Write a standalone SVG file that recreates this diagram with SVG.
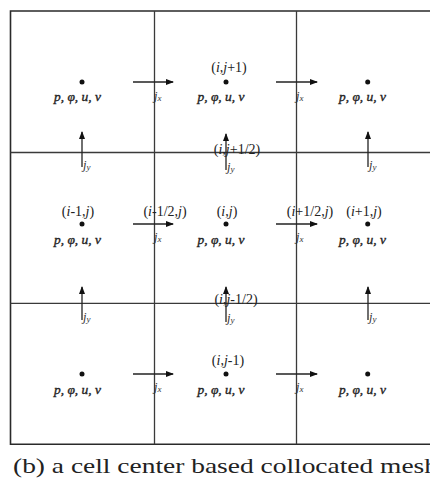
<svg xmlns="http://www.w3.org/2000/svg" width="430" height="485" viewBox="0 0 430 485">
<style>
.grid{stroke:#3a3a3a;stroke-width:1.3;fill:none}
.outer{stroke:#2a2a2a;stroke-width:1.6;fill:none}
.arr{stroke:#222;stroke-width:1.3;fill:none;marker-end:url(#ah)}
.var{font-family:"Liberation Serif",serif;font-style:italic;font-size:13.5px;fill:#222;stroke:#222;stroke-width:0.35;text-anchor:middle}
.lab{font-family:"Liberation Serif",serif;font-size:14px;fill:#222;text-anchor:middle}
.j{font-family:"Liberation Serif",serif;font-style:italic;font-size:12.5px;fill:#333}
.cap{font-family:"Liberation Serif",serif;font-size:21px;fill:#222}
</style>
<defs>
<marker id="ah" markerWidth="8" markerHeight="6" refX="7" refY="3" orient="auto" markerUnits="userSpaceOnUse">
<path d="M0,0 L8,3 L0,6 Z" fill="#111"/>
</marker>
</defs>
<rect width="430" height="485" fill="#fff"/>
<g id="mesh">
<path class="outer" d="M430,11 H10.5 V444.3 H430"/>
<path class="grid" d="M154.5,11 V444.3 M296.5,11 V444.3 M10.5,152.5 H430 M10.5,303.3 H430"/>
</g>
<g id="cell-i-1-j+1"><circle cx="82" cy="82" r="2.5" fill="#111"/><text class="var" x="77.5" y="101">p, φ, u, v</text></g>
<g id="cell-i-j+1"><text class="lab" x="229" y="72">(<tspan font-style="italic">i</tspan>,<tspan font-style="italic">j</tspan>+1)</text><circle cx="226" cy="82" r="2.5" fill="#111"/><text class="var" x="221" y="101">p, φ, u, v</text></g>
<g id="cell-i+1-j+1"><circle cx="367.7" cy="82" r="2.5" fill="#111"/><text class="var" x="362.5" y="101">p, φ, u, v</text></g>
<g id="cell-i-1-j"><text class="lab" x="78" y="216">(<tspan font-style="italic">i</tspan>-1,<tspan font-style="italic">j</tspan>)</text><circle cx="82" cy="224" r="2.5" fill="#111"/><text class="var" x="77.5" y="244">p, φ, u, v</text></g>
<g id="cell-i-j"><text class="lab" x="227" y="216">(<tspan font-style="italic">i</tspan>,<tspan font-style="italic">j</tspan>)</text><circle cx="226" cy="224" r="2.5" fill="#111"/><text class="var" x="221" y="244">p, φ, u, v</text></g>
<g id="cell-i+1-j"><text class="lab" x="364" y="216">(<tspan font-style="italic">i</tspan>+1,<tspan font-style="italic">j</tspan>)</text><circle cx="367.7" cy="224" r="2.5" fill="#111"/><text class="var" x="362.5" y="244">p, φ, u, v</text></g>
<g id="cell-i-1-j-1"><circle cx="82" cy="374" r="2.5" fill="#111"/><text class="var" x="77.5" y="394">p, φ, u, v</text></g>
<g id="cell-i-j-1"><text class="lab" x="228" y="365">(<tspan font-style="italic">i</tspan>,<tspan font-style="italic">j</tspan>-1)</text><circle cx="226" cy="374" r="2.5" fill="#111"/><text class="var" x="221" y="394">p, φ, u, v</text></g>
<g id="cell-i+1-j-1"><circle cx="367.7" cy="374" r="2.5" fill="#111"/><text class="var" x="362.5" y="394">p, φ, u, v</text></g>
<g id="connectors">
<line class="arr" x1="133" y1="82" x2="173" y2="82"/>
<line class="arr" x1="276" y1="82" x2="317" y2="82"/>
<line class="arr" x1="133" y1="224" x2="173" y2="224"/>
<line class="arr" x1="276" y1="224" x2="317" y2="224"/>
<line class="arr" x1="133" y1="374" x2="173" y2="374"/>
<line class="arr" x1="276" y1="374" x2="317" y2="374"/>
<line class="arr" x1="82" y1="167" x2="82" y2="132"/>
<line class="arr" x1="226" y1="170" x2="226" y2="134"/>
<line class="arr" x1="368" y1="167" x2="368" y2="132"/>
<line class="arr" x1="82" y1="320" x2="82" y2="287"/>
<line class="arr" x1="226" y1="322" x2="226" y2="287"/>
<line class="arr" x1="368" y1="320" x2="368" y2="287"/>
</g>
<g id="flux-labels">
<text class="j" x="154" y="100">j<tspan font-size="9px" dy="1">x</tspan></text>
<text class="j" x="296" y="100">j<tspan font-size="9px" dy="1">x</tspan></text>
<text class="j" x="154" y="241">j<tspan font-size="9px" dy="1">x</tspan></text>
<text class="j" x="296" y="241">j<tspan font-size="9px" dy="1">x</tspan></text>
<text class="j" x="154" y="391">j<tspan font-size="9px" dy="1">x</tspan></text>
<text class="j" x="296" y="391">j<tspan font-size="9px" dy="1">x</tspan></text>
<text class="j" x="83" y="169">j<tspan font-size="9px" dy="1">y</tspan></text>
<text class="j" x="227" y="171">j<tspan font-size="9px" dy="1">y</tspan></text>
<text class="j" x="369" y="169">j<tspan font-size="9px" dy="1">y</tspan></text>
<text class="j" x="83" y="321">j<tspan font-size="9px" dy="1">y</tspan></text>
<text class="j" x="227" y="322">j<tspan font-size="9px" dy="1">y</tspan></text>
<text class="j" x="369" y="321">j<tspan font-size="9px" dy="1">y</tspan></text>
<text class="lab" x="237" y="154">(<tspan font-style="italic">i</tspan>,<tspan font-style="italic">j</tspan>+1/2)</text>
<text class="lab" x="236" y="304">(<tspan font-style="italic">i</tspan>,<tspan font-style="italic">j</tspan>-1/2)</text>
<text class="lab" x="165" y="216">(<tspan font-style="italic">i</tspan>-1/2,<tspan font-style="italic">j</tspan>)</text>
<text class="lab" x="310" y="216">(<tspan font-style="italic">i</tspan>+1/2,<tspan font-style="italic">j</tspan>)</text>
</g>
<text class="cap" x="13" y="473" textLength="425" lengthAdjust="spacingAndGlyphs">(b) a cell center based collocated mesh</text>
</svg>
